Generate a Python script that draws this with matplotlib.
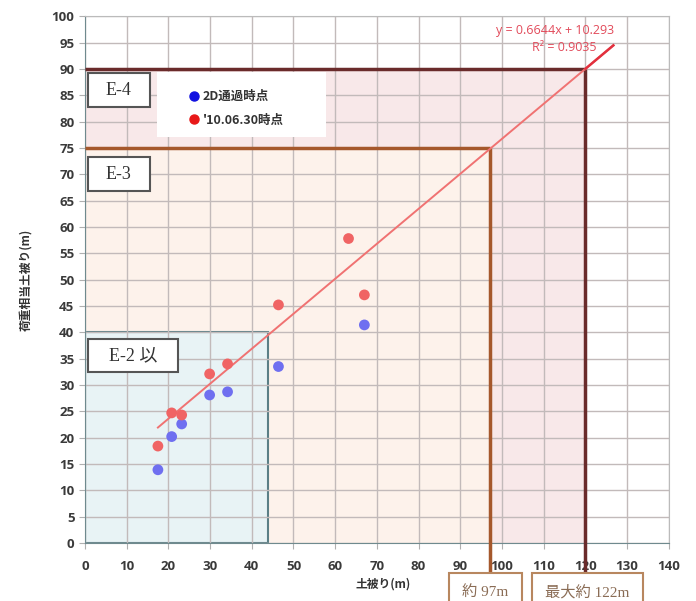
import matplotlib
matplotlib.use("Agg")
import matplotlib.pyplot as plt
from matplotlib.patches import Rectangle
from matplotlib.lines import Line2D
import numpy as np

plt.rcParams['font.family'] = ['Noto Sans CJK JP', 'DejaVu Sans']

# ---- data ----
x_2d = [17.5, 20.8, 23.2, 29.9, 34.2, 46.4, 67.0]
y_2d = [13.9, 20.2, 22.6, 28.1, 28.7, 33.5, 41.4]
x_now = [17.5, 20.8, 23.2, 29.9, 34.2, 46.4, 63.2, 67.0]
y_now = [18.4, 24.7, 24.3, 32.1, 34.0, 45.2, 57.8, 47.1]
trend_slope = 0.6644
trend_intercept = 10.293
trend_x_range = [17.5, 126.7]
legend_labels = ['2D通過時点', "'10.06.30時点"]
xlabel = '土被り(m)'
ylabel = '荷重相当土被り(m)'
x_ticks = list(range(0, 141, 10))
y_ticks = list(range(0, 101, 5))
e2_limits = [44, 40]
e3_limits = [97, 75]
e4_limits = [120, 90]
region_labels = ['E-4', 'E-3', 'E-2 以']
bottom_labels = ['約 97m', '最大約 122m']
eq_text = 'y = 0.6644x + 10.293'
r2_text = 'R² = 0.9035'

fig = plt.figure(figsize=(6.96, 6.01), dpi=100)
ax = fig.add_axes([0.122, 0.0965, 0.839, 0.8765])
ax.set_xlim(0, 140)
ax.set_ylim(0, 100)
ax.set_axisbelow(True)

# regions
ax.add_patch(Rectangle((0, 0), e4_limits[0], e4_limits[1], facecolor='#f8e8e9', edgecolor='none', zorder=0.2))
ax.add_patch(Rectangle((0, 0), e3_limits[0], e3_limits[1], facecolor='#fdf2eb', edgecolor='none', zorder=0.25))
ax.add_patch(Rectangle((0, 0), e2_limits[0], e2_limits[1], facecolor='#e8f3f5', edgecolor='#5b7f86', lw=1.5, zorder=0.3))

ax.grid(True, color='#c2baba', lw=1.0)
ax.set_xticks(x_ticks)
ax.set_yticks(y_ticks)
for s in ax.spines.values():
    s.set_color('#bbbbbb')
ax.spines['left'].set_color('#6f8a8e')
ax.spines['bottom'].set_color('#6f8a8e')
ax.tick_params(axis='both', colors='#b0b0b0', length=4, labelcolor='#3a3a3a', labelsize=9.5)
ax.tick_params(axis='x', pad=8)
for lab in ax.get_xticklabels() + ax.get_yticklabels():
    lab.set_fontweight('bold')
    lab.set_family(['Open Sans', 'DejaVu Sans'])

# boundary lines (extend below axis)
ax.plot([0, e3_limits[0]], [e3_limits[1], e3_limits[1]], color='#a5582c', lw=2.5, zorder=3, solid_capstyle='butt')
ax.plot([e3_limits[0], e3_limits[0]], [e3_limits[1], -5.7], color='#a5582c', lw=2.5, zorder=3, clip_on=False, solid_capstyle='butt')
ax.plot([0, e4_limits[0]], [e4_limits[1], e4_limits[1]], color='#6a2b2b', lw=2.5, zorder=3, solid_capstyle='butt')
ax.plot([e4_limits[0], e4_limits[0]], [e4_limits[1], -5.7], color='#6a2b2b', lw=2.5, zorder=3, clip_on=False, solid_capstyle='butt')

# trendline
tx = np.array(trend_x_range)
ax.plot(tx, trend_slope * tx + trend_intercept, color='#f07272', lw=1.4, zorder=4)
tx2 = np.array([e4_limits[0], trend_x_range[1]])
ax.plot(tx2, trend_slope * tx2 + trend_intercept, color='#e2303e', lw=1.8, zorder=4)

# points
ax.scatter(x_2d, y_2d, s=60, color='#6f6ff0', zorder=5, edgecolors='none')
ax.scatter(x_now, y_now, s=60, color='#f06464', zorder=5, edgecolors='none')

# equation
ax.text(112.8, 97.2, eq_text, color='#e24a5a', fontsize=9, ha='center', va='center', zorder=6,
        family=['Open Sans', 'DejaVu Sans'])
ax.text(115.0, 94.1, r2_text, color='#e24a5a', fontsize=9, ha='center', va='center', zorder=6,
        family=['Open Sans', 'DejaVu Sans'])

# legend
ax.add_patch(Rectangle((17.2, 77.0), 40.5, 12.4, facecolor='white', edgecolor='none', zorder=6))
handles = [Line2D([], [], marker='o', ls='none', color='#1010e0', markersize=6.5),
           Line2D([], [], marker='o', ls='none', color='#e81818', markersize=6.5)]
leg = ax.legend(handles, legend_labels, loc='upper left', bbox_to_anchor=(0.176, 0.86),
                frameon=False, fontsize=9, handlelength=1.0, handletextpad=0.2,
                labelspacing=0.85, borderaxespad=0, borderpad=0)
leg.set_zorder(7)
for t in leg.get_texts():
    t.set_color('#333333')
    t.set_fontweight('bold')

# region label boxes
serif = ['Liberation Serif', 'Noto Sans CJK JP']
boxes = [((0.7, 82.7), 14.9, 6.5), ((0.7, 66.8), 14.9, 6.4), ((0.7, 32.4), 21.7, 6.3)]
for (xy, w, h), lab in zip(boxes, region_labels):
    ax.add_patch(Rectangle(xy, w, h, facecolor='white', edgecolor='#555555', lw=1.5, zorder=6))
    ax.text(xy[0] + w / 2, xy[1] + h / 2, lab, family=serif, fontsize=13, ha='center', va='center',
            color='#333333', zorder=7)

# bottom boxes
bboxes = [((87.4, -12.5), 17.3), ((107.1, -12.5), 26.6)]
for (xy, w), lab in zip(bboxes, bottom_labels):
    ax.add_patch(Rectangle(xy, w, 6.8, facecolor='white', edgecolor='#b8875f', lw=1.5, zorder=6, clip_on=False))
    ax.text(xy[0] + w / 2, -9.3, lab, family=serif, fontsize=11, ha='center', va='center',
            color='#8a6c55', zorder=7, clip_on=False)

ax.set_xlabel(xlabel, fontsize=8.5, fontweight='bold', color='#333333', labelpad=2)
ax.xaxis.set_label_coords(0.51, -0.066)
ax.set_ylabel(ylabel, fontsize=8.5, fontweight='bold', color='#333333', labelpad=14)

fig.savefig('out.png', dpi=100)
